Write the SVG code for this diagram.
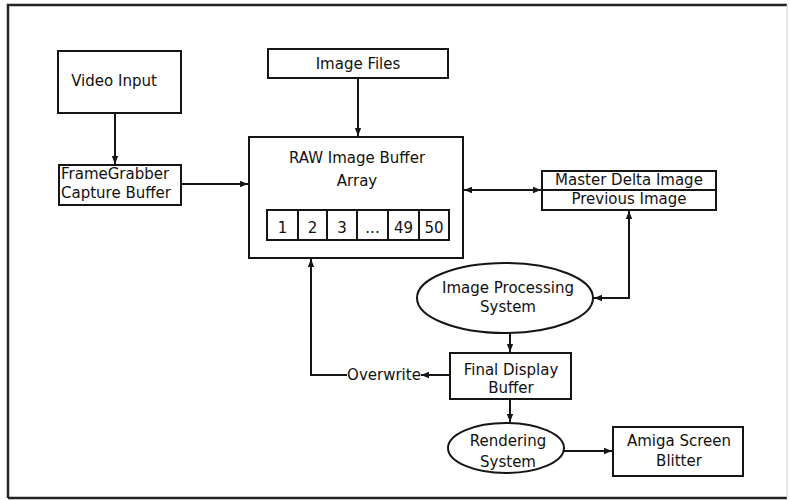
<svg xmlns="http://www.w3.org/2000/svg" width="790" height="500" viewBox="0 0 790 500">
  <style>
    .box { fill: #fff; stroke: #151515; stroke-width: 2; }
    .cell { fill: none; stroke: #151515; stroke-width: 2; }
    .wire { fill: none; stroke: #151515; stroke-width: 2; }
    .lbl { font-family: "DejaVu Sans", "Liberation Sans", sans-serif; font-size: 15px; fill: #111; text-anchor: middle; }
    .left { text-anchor: start; }
  </style>
  <defs>
    <marker id="arrow" viewBox="0 0 8 8" refX="8" refY="4" markerWidth="8" markerHeight="8" markerUnits="userSpaceOnUse" orient="auto-start-reverse">
      <path d="M0,0.8 L8,4 L0,7.2 Z" fill="#151515"/>
    </marker>
  </defs>

  <rect width="790" height="500" fill="#fff"/>

  <!-- page frame -->
  <g id="frame">
    <path d="M8,498 L8,5 L787,5" fill="none" stroke="#222" stroke-width="2.5"/>
    <path d="M8,498 L787,498" fill="none" stroke="#222" stroke-width="2.5"/>
    <path d="M787,5 L787,498" fill="none" stroke="#ccc" stroke-width="1"/>
  </g>

  <!-- connectors -->
  <g id="connectors">
    <path class="wire" d="M115,113 L115,164" marker-end="url(#arrow)"/>
    <path class="wire" d="M358,78 L358,136" marker-end="url(#arrow)"/>
    <path class="wire" d="M181,184 L248,184" marker-end="url(#arrow)"/>
    <path class="wire" d="M464,190 L541,190" marker-start="url(#arrow)" marker-end="url(#arrow)"/>
    <path class="wire" d="M629,211 L629,298 L594,298" marker-start="url(#arrow)" marker-end="url(#arrow)"/>
    <path class="wire" d="M510,333 L510,352" marker-end="url(#arrow)"/>
    <path class="wire" d="M449,375 L421,375" marker-end="url(#arrow)"/>
    <path class="wire" d="M347,375 L311,375 L311,259" marker-end="url(#arrow)"/>
    <path class="wire" d="M510,399 L510,422" marker-end="url(#arrow)"/>
    <path class="wire" d="M564,451 L612,451" marker-end="url(#arrow)"/>
  </g>

  <g id="video-input">
    <rect class="box" x="58" y="51" width="123" height="62"/>
    <text class="lbl" x="114" y="86">Video Input</text>
  </g>

  <g id="framegrabber">
    <rect class="box" x="59" y="165" width="122" height="40"/>
    <text class="lbl left" x="61" y="179">FrameGrabber</text>
    <text class="lbl left" x="61" y="198">Capture Buffer</text>
  </g>

  <g id="image-files">
    <rect class="box" x="268" y="49" width="180" height="29"/>
    <text class="lbl" x="358" y="69">Image Files</text>
  </g>

  <g id="raw-buffer">
    <rect class="box" x="249" y="137" width="214" height="121"/>
    <text class="lbl" x="357" y="163">RAW Image Buffer</text>
    <text class="lbl" x="357" y="186">Array</text>
    <rect class="cell" x="267" y="210" width="182" height="30"/>
    <path class="cell" d="M298,210 V240 M327,210 V240 M357,210 V240 M388,210 V240 M419,210 V240"/>
    <text class="lbl" x="282.5" y="233">1</text>
    <text class="lbl" x="312.5" y="233">2</text>
    <text class="lbl" x="342" y="233">3</text>
    <text class="lbl" x="372.5" y="233">...</text>
    <text class="lbl" x="403.5" y="233">49</text>
    <text class="lbl" x="434" y="233">50</text>
  </g>

  <g id="master-delta">
    <rect class="box" x="542" y="171" width="174" height="39"/>
    <path class="cell" d="M542,190 H716"/>
    <text class="lbl" x="629" y="185">Master Delta Image</text>
    <text class="lbl" x="629" y="204">Previous Image</text>
  </g>

  <g id="image-processing">
    <ellipse class="box" cx="505" cy="298" rx="88" ry="35"/>
    <text class="lbl" x="508" y="293">Image Processing</text>
    <text class="lbl" x="508" y="312">System</text>
  </g>

  <g id="final-display">
    <rect class="box" x="450" y="353" width="121" height="46"/>
    <text class="lbl" x="511" y="375">Final Display</text>
    <text class="lbl" x="511" y="393">Buffer</text>
  </g>

  <g id="overwrite-label">
    <text class="lbl" x="384" y="380">Overwrite</text>
  </g>

  <g id="rendering">
    <ellipse class="box" cx="506" cy="448" rx="58" ry="25"/>
    <text class="lbl" x="508" y="446">Rendering</text>
    <text class="lbl" x="508" y="467">System</text>
  </g>

  <g id="amiga-blitter">
    <rect class="box" x="613" y="427" width="130" height="49"/>
    <text class="lbl" x="679" y="446">Amiga Screen</text>
    <text class="lbl" x="679" y="466">Blitter</text>
  </g>
</svg>
